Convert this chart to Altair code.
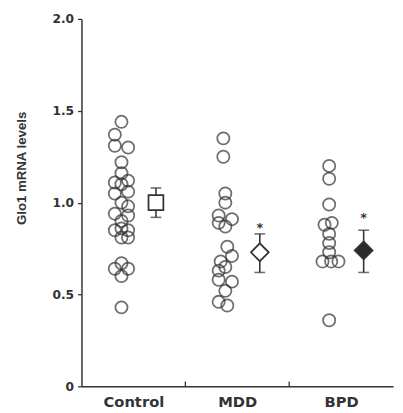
import altair as alt
import pandas as pd

# ---- data ----
groups = ["Control", "MDD", "BPD"]

control_vals = [1.44, 1.37, 1.31, 1.30, 1.22, 1.16, 1.11, 1.12, 1.10, 1.05, 1.06, 1.00, 0.98,
                0.94, 0.93, 0.90, 0.85, 0.86, 0.85, 0.81, 0.81, 0.64, 0.67, 0.64, 0.60, 0.43]
control_lane = [0, -1, -1, 1, 0, 0, -1, 1, 0, -1, 1, 0, 1,
                -1, 1, 0, -1, 0, 1, 0, 1, -1, 0, 1, 0, 0]

mdd_vals = [1.35, 1.25, 1.05, 1.00, 0.93, 0.89, 0.91, 0.87, 0.76, 0.71, 0.68, 0.65, 0.63,
            0.58, 0.57, 0.52, 0.46, 0.44]
mdd_lane = [-0.3, -0.3, 0, 0, -1, -1, 1, 0, 0.3, 1, -0.7, 0, -1,
            -1, 1, 0, -1, 0.3]

bpd_vals = [1.20, 1.13, 0.99, 0.88, 0.89, 0.83, 0.78, 0.73, 0.68, 0.68, 0.68, 0.36]
bpd_lane = [0, 0, 0, -0.7, 0.4, 0, 0, 0, -1, 0.3, 1.4, 0]

mean_vals = [1.00, 0.73, 0.74]
err_low = [0.92, 0.62, 0.62]
err_high = [1.08, 0.83, 0.85]
mean_shape = ["square", "diamond", "diamond"]
mean_fill = ["white", "white", "#2b2b2b"]
mean_size = [230, 330, 330]
star_vals = [None, 0.88, 0.93]

# ---- layout (style) ----
CLOUD_OFF = -0.115
MEAN_OFF = 0.217
LANE_W = 0.064
INK = "#333333"

rows = []
for gi, (vals, lanes) in enumerate([(control_vals, control_lane), (mdd_vals, mdd_lane), (bpd_vals, bpd_lane)]):
    for v, l in zip(vals, lanes):
        rows.append({"group": groups[gi], "gi": gi, "value": v, "lane": l})
pts = pd.DataFrame(rows)

means = pd.DataFrame({
    "group": groups, "gi": [0, 1, 2], "mean": mean_vals, "lo": err_low, "hi": err_high,
    "shape": mean_shape, "fill": mean_fill, "sz": mean_size,
})
stars = pd.DataFrame({"group": groups, "gi": [0, 1, 2], "star": star_vals}).dropna()
xticks = pd.DataFrame({"t": [1, 2], "y0": [0, 0], "y1": [0.027, 0.027]})

xscale = alt.Scale(domain=[0, 3], nice=False, zero=False)
yscale = alt.Scale(domain=[0, 2], nice=False)

xaxis = alt.Axis(values=[0.5, 1.5, 2.5],
                 labelExpr="['Control','MDD','BPD'][floor(datum.value)]",
                 ticks=False, grid=False, labelFont="DejaVu Sans", labelFontWeight="bold",
                 labelFontSize=15, labelColor=INK, labelPadding=9, domainColor=INK,
                 domainWidth=1.5, title=None, labelFlush=False)
yaxis = alt.Axis(values=[0, 0.5, 1, 1.5, 2],
                 labelExpr="datum.value == 0 ? '0' : format(datum.value, '.1f')",
                 grid=False, tickSize=4, tickColor=INK, tickWidth=1.3, domainColor=INK,
                 domainWidth=1.5, labelFont="DejaVu Sans", labelFontWeight="bold",
                 labelFontSize=12.5, labelColor=INK, labelPadding=4,
                 title="Glo1 mRNA levels", titleFont="Liberation Sans", titleFontWeight="bold",
                 titleFontSize=13.5, titleColor=INK, titleX=-61, titleY=152,
                 titleAlign="center", titleBaseline="middle", titleAngle=-90)


def X(field):
    return alt.X(field, type="quantitative", scale=xscale, axis=xaxis)


def Y(field):
    return alt.Y(field, type="quantitative", scale=yscale, axis=yaxis)


cloud = alt.Chart(pts).transform_calculate(
    xp=f"datum.gi + 0.5 + ({CLOUD_OFF}) + datum.lane * {LANE_W}"
).mark_point(shape="circle", filled=False, size=155, strokeWidth=1.8, color=INK).encode(
    x=X("xp"), y=Y("value")
)

mbase = alt.Chart(means).transform_calculate(xm=f"datum.gi + 0.5 + {MEAN_OFF}")
err = mbase.mark_rule(strokeWidth=1.6, color=INK).encode(x=X("xm"), y=Y("lo"), y2="hi")
cap_lo = mbase.mark_tick(orient="horizontal", size=11, thickness=1.6, color=INK).encode(x=X("xm"), y=Y("lo"))
cap_hi = mbase.mark_tick(orient="horizontal", size=11, thickness=1.6, color=INK).encode(x=X("xm"), y=Y("hi"))
mk = mbase.mark_point(filled=True, strokeWidth=1.8, stroke=INK, opacity=1).encode(
    x=X("xm"), y=Y("mean"),
    shape=alt.Shape("shape:N", scale=None),
    fill=alt.Fill("fill:N", scale=None),
    size=alt.Size("sz:Q", scale=None),
)

star = alt.Chart(stars).transform_calculate(xm=f"datum.gi + 0.5 + {MEAN_OFF}").mark_text(
    text="*", font="DejaVu Sans", fontWeight="bold", fontSize=13, color=INK, baseline="middle", dy=3
).encode(x=X("xm"), y=Y("star"))

ticks = alt.Chart(xticks).mark_rule(strokeWidth=1.3, color=INK).encode(
    x=X("t"), y=Y("y0"), y2="y1"
)

chart = alt.layer(cloud, err, cap_lo, cap_hi, mk, star, ticks).properties(
    width=318, height=375,
    autosize=alt.AutoSizeParams(type="none"),
    padding={"left": 75, "top": 7, "right": 2, "bottom": 22},
    background="white",
).configure_view(stroke=None)

chart.save("out.html", embed_options={"renderer": "svg", "actions": False})
